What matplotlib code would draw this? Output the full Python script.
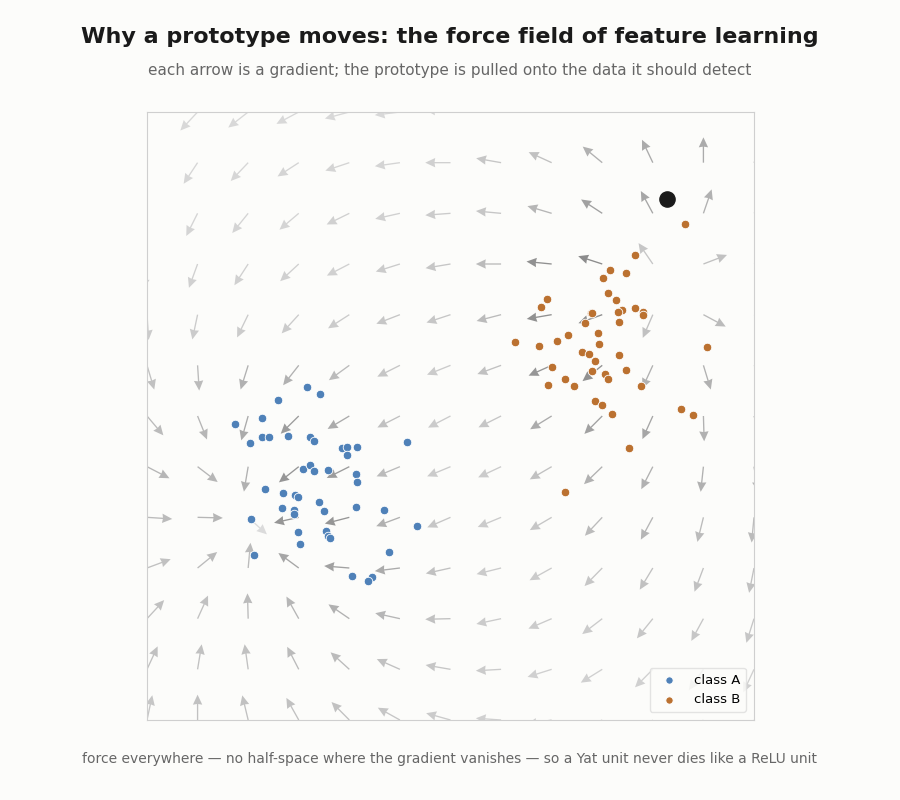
import numpy as np
import matplotlib
matplotlib.use('Agg')
import matplotlib.pyplot as plt
from matplotlib.colors import LinearSegmentedColormap, Normalize

# grid of the field (13 x 13, rows from top to bottom)
grid_x = np.linspace(-3, 3, 13)
grid_y = np.linspace(3, -3, 13)

# direction of the gradient at each grid node, degrees
grad_angle = [
    [-120, -133, -142, -152, -165, -173, 175, 161, 145, 130, 108, 88, 75],
    [-113, -123.5, -133.6, -147, -161.6, -172, 180, 170, 155.5, 140.6, 115.4, 90, 60],
    [-105, -116.6, -129, -139.7, -153.9, -167.4, -175.8, 174.7, 163.4, 146.8, 118.3, 71, 35],
    [-97.8, -110, -123, -137.3, -152.7, -162.5, -170.6, 180, 174.4, 162, 124.4, 21, 10],
    [-86.3, -102, -116, -132.4, -147.3, -158.9, -161.8, -165.5, -170.3, -160.3, -113.5, -28.1, -15],
    [-73.3, -86.3, -107.4, -128.2, -144, -153.4, -158.2, -159.8, -155.9, -141.4, -114.6, -73, -40],
    [-49.7, -68.1, -105.8, -135.5, -149.3, -153, -152.7, -153.4, -148.4, -135, -114.3, -88.3, -70],
    [-27.3, -37.4, -99.7, -141.7, -153.4, -157.5, -157.5, -155, -149.9, -136.2, -117.2, -96.2, -80],
    [-3.7, -1.4, -42.2, -167.5, -165.6, -159.5, -156.6, -157.5, -149.7, -133.3, -118.3, -103.8, -95.4],
    [20.4, 39.2, 84.7, 143.7, 175.4, -173, -167.5, -166, -151, -134.5, -121.2, -110.7, -101.2],
    [47.2, 65.6, 91.6, 119.2, 145.6, 167.5, -178.6, -167.9, -156.8, -142.5, -129, -118.6, -107.6],
    [65.1, 80.7, 98, 117.2, 137.8, 156.1, 170.2, -176.8, -162.5, -148.2, -134.8, -125, -115],
    [77.9, 90, 103.5, 119.3, 134.8, 150.9, 164.4, 176, -170, -155, -140, -130, -120],
]

# relative gradient strength (drives the grey level)
grad_strength = [
    [0.05, 0.08, 0.08, 0.08, 0.08, 0.08, 0.10, 0.15, 0.20, 0.30, 0.35, 0.35, 0.30],
    [0.10, 0.10, 0.10, 0.12, 0.12, 0.12, 0.15, 0.25, 0.30, 0.45, 0.50, 0.50, 0.40],
    [0.12, 0.12, 0.12, 0.12, 0.15, 0.15, 0.20, 0.25, 0.40, 0.60, 0.55, 0.45, 0.35],
    [0.15, 0.15, 0.15, 0.15, 0.15, 0.20, 0.25, 0.35, 0.75, 0.80, 0.25, 0.30, 0.30],
    [0.20, 0.20, 0.20, 0.20, 0.20, 0.25, 0.25, 0.35, 0.75, 0.80, 0.30, 0.35, 0.30],
    [0.30, 0.35, 0.45, 0.45, 0.35, 0.25, 0.20, 0.30, 0.70, 0.75, 0.45, 0.45, 0.35],
    [0.35, 0.40, 0.50, 0.65, 0.50, 0.30, 0.20, 0.25, 0.50, 0.60, 0.55, 0.45, 0.40],
    [0.40, 0.40, 0.45, 0.70, 0.65, 0.35, 0.20, 0.20, 0.30, 0.45, 0.45, 0.45, 0.40],
    [0.35, 0.40, 0.05, 0.70, 0.70, 0.45, 0.25, 0.20, 0.25, 0.35, 0.40, 0.35, 0.35],
    [0.30, 0.35, 0.35, 0.55, 0.60, 0.50, 0.30, 0.20, 0.20, 0.25, 0.30, 0.30, 0.30],
    [0.30, 0.30, 0.35, 0.40, 0.45, 0.40, 0.30, 0.20, 0.20, 0.20, 0.25, 0.25, 0.25],
    [0.30, 0.30, 0.30, 0.35, 0.35, 0.30, 0.25, 0.20, 0.15, 0.15, 0.15, 0.15, 0.15],
    [0.25, 0.30, 0.30, 0.30, 0.30, 0.25, 0.20, 0.15, 0.15, 0.15, 0.15, 0.15, 0.15],
]

# class A samples
a_x = [-1.42, -1.29, -1.71, -2.13, -1.86, -1.86, -1.79, -1.61, -1.98, -1.39, -1.35, -1.07,
       -1.02, -0.92, -1.02, -0.43, -1.46, -1.39, -1.35, -1.21, -0.93, -0.92, -1.83, -1.66,
       -1.54, -1.51, -1.30, -1.67, -1.55, -1.55, -1.25, -0.93, -0.66, -1.97, -0.33, -1.51,
       -1.23, -1.21, -1.19, -1.49, -1.94, -0.61, -0.97, -0.78, -0.82]
a_y = [0.29, 0.22, 0.16, -0.08, -0.02, -0.21, -0.21, -0.20, -0.27, -0.21, -0.25, -0.32,
       -0.31, -0.31, -0.38, -0.26, -0.52, -0.48, -0.54, -0.53, -0.57, -0.65, -0.72, -0.76,
       -0.78, -0.80, -0.85, -0.91, -0.93, -0.97, -0.94, -0.90, -0.93, -1.02, -1.09, -1.14,
       -1.13, -1.18, -1.20, -1.26, -1.37, -1.34, -1.58, -1.59, -1.63]

# class B samples
b_x = [1.82, 1.58, 1.73, 1.51, 1.56, 1.64, 0.95, 0.89, 1.82, 1.70, 1.66, 1.90, 1.90, 1.39,
       1.40, 1.33, 1.67, 1.46, 1.16, 0.64, 0.87, 1.05, 1.47, 1.30, 1.37, 1.67, 2.54, 1.43,
       1.00, 1.40, 1.53, 1.56, 1.73, 1.13, 0.96, 1.22, 1.88, 1.43, 1.50, 1.60, 2.28, 2.40,
       1.76, 1.13, 2.32]
b_y = [1.59, 1.44, 1.41, 1.36, 1.21, 1.14, 1.15, 1.08, 1.07, 1.05, 1.03, 1.03, 1.00, 1.02,
       1.02, 0.92, 0.93, 0.82, 0.80, 0.73, 0.69, 0.74, 0.71, 0.63, 0.61, 0.60, 0.68, 0.54,
       0.48, 0.44, 0.41, 0.37, 0.45, 0.37, 0.31, 0.30, 0.30, 0.15, 0.11, 0.02, 0.07, 0.01,
       -0.32, -0.75, 1.89]

# the prototype
proto = (2.14, 2.14)

bg = '#fcfcfa'
fig = plt.figure(figsize=(9, 8), dpi=100, facecolor=bg)
ax = fig.add_axes([147 / 900, 80 / 800, 607 / 900, 608 / 800])
ax.set_facecolor(bg)

X, Y = np.meshgrid(grid_x, grid_y)
theta = np.deg2rad(np.array(grad_angle))
arrow_len = 0.25
U = arrow_len * np.cos(theta)
V = arrow_len * np.sin(theta)
C = np.array(grad_strength)

greys = LinearSegmentedColormap.from_list('field', ['#e0e0e0', '#777777'])
ax.quiver(X, Y, U, V, C, cmap=greys, norm=Normalize(0, 1),
          angles='xy', scale_units='xy', scale=1, pivot='tail',
          width=0.0022, headwidth=7, headlength=7.5, headaxislength=7, zorder=1)

ax.scatter(a_x, a_y, s=38, color='#4f81b8', edgecolor='white', linewidth=0.6,
           label='class A', zorder=3)
ax.scatter(b_x, b_y, s=38, color='#bb7130', edgecolor='white', linewidth=0.6,
           label='class B', zorder=3)
ax.scatter([proto[0]], [proto[1]], s=120, color='#1a1a1a', zorder=4)

ax.set_xlim(-3, 3)
ax.set_ylim(-3, 3)
ax.set_xticks([])
ax.set_yticks([])
for sp in ax.spines.values():
    sp.set_color('#cfcfcf')
    sp.set_linewidth(0.8)

leg = ax.legend(loc='lower right', fontsize=9.5, markerscale=0.85, frameon=True,
                borderpad=0.45, handletextpad=0.9, borderaxespad=0.6)
leg.get_frame().set_edgecolor('#dddddd')
leg.get_frame().set_facecolor(bg)

fig.text(0.5, 1 - 37 / 800, 'Why a prototype moves: the force field of feature learning',
         ha='center', va='center', fontsize=16, fontweight='bold', color='#1a1a1a')
fig.text(0.5, 1 - 71 / 800, 'each arrow is a gradient; the prototype is pulled onto the data it should detect',
         ha='center', va='center', fontsize=11, color='#666666')
fig.text(0.5, 1 - 759 / 800,
         'force everywhere \u2014 no half-space where the gradient vanishes \u2014 so a Yat unit never dies like a ReLU unit',
         ha='center', va='center', fontsize=10, color='#666666')

fig.savefig('out.png', dpi=100, facecolor=bg)
